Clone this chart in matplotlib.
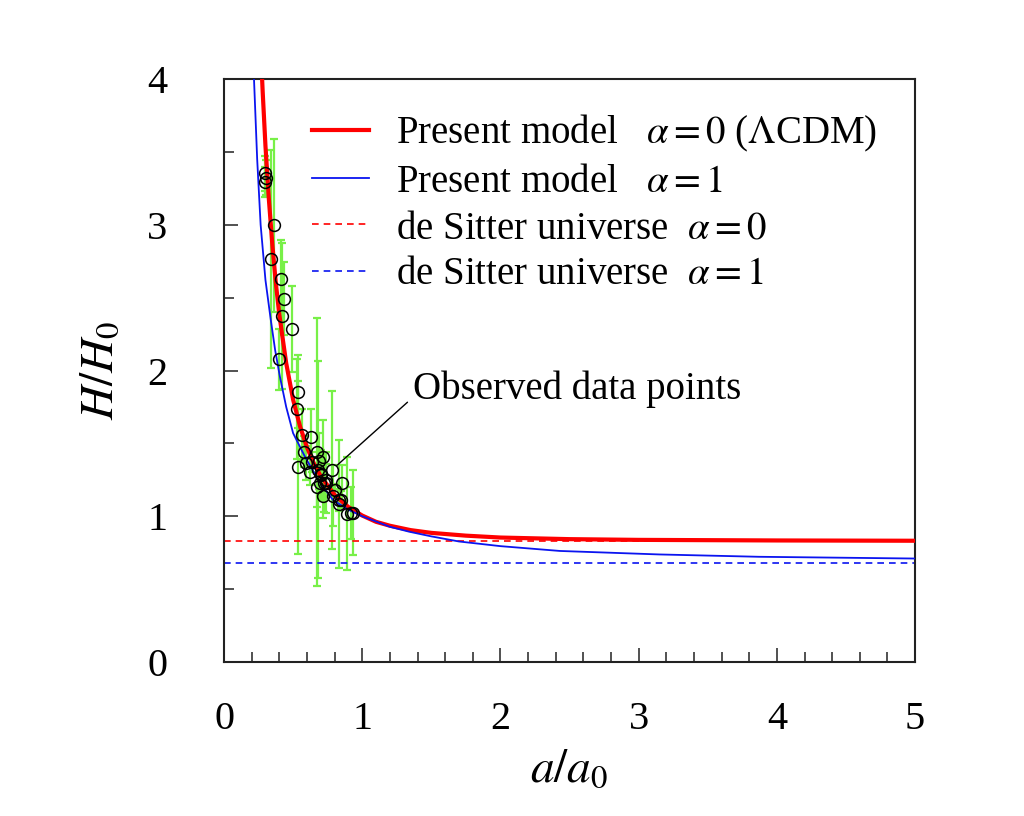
import matplotlib
matplotlib.use("Agg")
import matplotlib.pyplot as plt
from matplotlib.ticker import MultipleLocator

plt.rcParams['font.family'] = ['Liberation Serif', 'DejaVu Serif']
plt.rcParams['mathtext.fontset'] = 'stix'

# Present model alpha = 0 (LCDM) curve
red_a = [0.27, 0.28, 0.30, 0.325, 0.35, 0.375, 0.40, 0.45, 0.50, 0.55, 0.60, 0.65, 0.70, 0.80, 0.90,
         1.00, 1.10, 1.20, 1.35, 1.50, 1.75, 2.00, 2.50, 3.00, 4.00, 5.00]
red_H = [4.12, 3.91, 3.54, 3.17, 2.86, 2.60, 2.385, 2.05, 1.80, 1.617, 1.474, 1.363, 1.274, 1.147, 1.063,
         1.005, 0.962, 0.935, 0.905, 0.886, 0.867, 0.854, 0.843, 0.838, 0.834, 0.832]

# Present model alpha = 1 curve
blue_a = [0.205, 0.217, 0.24, 0.265, 0.30, 0.338, 0.37, 0.404, 0.45, 0.50, 0.585, 0.68, 0.79, 0.90,
          1.00, 1.20, 1.34, 1.50, 1.70, 2.00, 2.43, 3.15, 3.87, 5.00]
blue_H = [4.15, 4.00, 3.45, 3.00, 2.62, 2.35, 2.14, 1.96, 1.75, 1.57, 1.41, 1.25, 1.11, 1.045,
          1.00, 0.928, 0.894, 0.862, 0.827, 0.795, 0.762, 0.738, 0.722, 0.710]

# de Sitter asymptotes
ds_alpha0 = 0.83
ds_alpha1 = 0.68

# Observed H(z) data points (a/a0, H/H0, error)
obs_a = [0.935, 0.917, 0.893, 0.855, 0.848, 0.834, 0.833, 0.787, 0.781, 0.740, 0.725, 0.714, 0.714,
         0.702, 0.690, 0.680, 0.676, 0.676, 0.628, 0.595, 0.561, 0.533, 0.532, 0.526, 0.491, 0.435,
         0.423, 0.412, 0.395, 0.364, 0.337,
         0.806, 0.741, 0.699, 0.694, 0.637, 0.625, 0.578, 0.303, 0.299, 0.298]
obs_H = [1.024, 1.024, 1.018, 1.231, 1.113, 1.113, 1.082, 1.142, 1.318, 1.231, 1.231, 1.409, 1.142,
         1.292, 1.377, 1.320, 1.200, 1.439, 1.543, 1.365, 1.558, 1.855, 1.335, 1.736, 2.285, 2.493,
         2.374, 2.626, 2.077, 2.997, 2.767,
         1.182, 1.252, 1.283, 1.226, 1.371, 1.304, 1.444, 3.323, 3.294, 3.353]
obs_err = [0.291, 0.178, 0.389, 0.119, 0.059, 0.074, 0.439, 0.208, 0.543, 0.208, 0.200, 0.252, 0.151,
           0.166, 0.191, 0.742, 0.134, 0.920, 0.193, 0.119, 0.178, 0.252, 0.593, 0.341, 0.297, 0.252,
           0.499, 0.267, 0.208, 0.593, 0.748,
           0.039, 0.104, 0.055, 0.116, 0.067, 0.091, 0.104, 0.119, 0.104, 0.119]

fig = plt.figure(figsize=(10.24, 8.16), dpi=100)
ax = fig.add_axes([0.21875, 0.1887, 0.6749, 0.7145])

ax.errorbar(obs_a, obs_H, yerr=obs_err, fmt='none', ecolor='#78f048', elinewidth=1.6,
            capsize=2.6, capthick=1.6, zorder=1)

l1, = ax.plot(red_a, red_H, color='#ff0000', lw=3.0, zorder=3,
              label=r'Present model   $\alpha = 0$ ($\Lambda$CDM)')
l2, = ax.plot(blue_a, blue_H, color='#0a14f0', lw=1.3, zorder=3,
              label=r'Present model   $\alpha = 1$')
l3 = ax.axhline(ds_alpha0, color='#ff0000', lw=1.2, ls=(0, (4, 3)), zorder=2,
                label=r'de Sitter universe  $\alpha = 0$')
l4 = ax.axhline(ds_alpha1, color='#0a14f0', lw=1.2, ls=(0, (4, 3)), zorder=2,
                label=r'de Sitter universe  $\alpha = 1$')

ax.plot(obs_a, obs_H, 'o', mfc='none', mec='black', ms=8.5, mew=1.1, zorder=4)

ax.annotate('Observed data points', xy=(0.781, 1.318), xytext=(1.37, 1.87),
            fontsize=28, ha='left', va='center',
            arrowprops=dict(arrowstyle='-', color='black', lw=1.0, shrinkA=3, shrinkB=5,
                            relpos=(0.0, 0.3)))

ax.set_xlim(0, 5)
ax.set_ylim(0, 4)
ax.xaxis.set_major_locator(MultipleLocator(1))
ax.xaxis.set_minor_locator(MultipleLocator(0.2))
ax.yaxis.set_major_locator(MultipleLocator(1))
ax.yaxis.set_minor_locator(MultipleLocator(0.5))
ax.tick_params(which='both', direction='in', top=False, right=False, width=1.1, color='#222222')
ax.tick_params(which='major', length=10)
ax.tick_params(which='minor', length=7)
ax.tick_params(axis='x', which='major', labelsize=29, pad=28)
ax.tick_params(axis='y', which='major', labelsize=29, pad=41)
for s in ax.spines.values():
    s.set_linewidth(1.5)
    s.set_color('#222222')

ax.set_xlabel(r'$a/a_0$', fontsize=34, labelpad=8)
ax.set_ylabel(r'$H/H_0$', fontsize=34, labelpad=17)

ax.legend(handles=[l1, l2, l3, l4], loc='upper left', bbox_to_anchor=(0.105, 0.968),
          frameon=False, fontsize=28, handlelength=1.45, handletextpad=0.7,
          labelspacing=0.24, borderaxespad=0)

fig.savefig('out.png', dpi=100)
